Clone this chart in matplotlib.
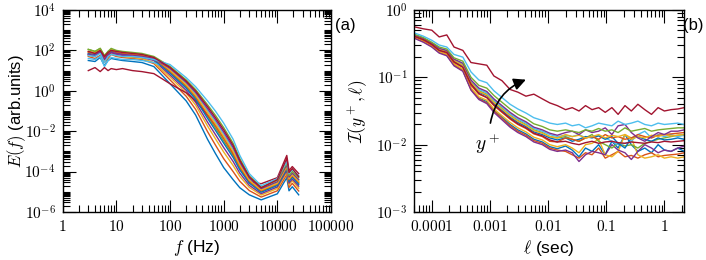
import numpy as np
import matplotlib
matplotlib.use('Agg')
import matplotlib.pyplot as plt
from matplotlib.ticker import LogLocator, NullFormatter

plt.rcParams['font.family'] = ['Liberation Sans', 'DejaVu Sans']
plt.rcParams['mathtext.fontset'] = 'cm'

# colores tipo MATLAB
colores = ['#0072BD', '#D95319', '#EDB120', '#7E2F8E', '#77AC30', '#4DBEEE', '#A2142F']

##############
# PANEL (a)  #
##############
f_hz = [3, 4, 5, 6, 7, 8, 10, 13, 20, 30, 50, 100, 200, 300, 500, 700, 1000,
        1500, 2000, 3000, 5000, 10000, 15000, 16500, 19000, 25000]

# log10 E(f)
E0 = [1.5, 1.45, 1.65, 1.25, 1.5, 1.6, 1.55, 1.5, 1.45, 1.4, 1.2, 0.35, -0.5, -1.2, -2.4, -3.1, -3.8, -4.4, -4.8, -5.15, -5.4, -5.1, -4.3, -4.95, -4.75, -5.15]
E1 = [1.7, 1.6, 1.75, 1.4, 1.6, 1.8, 1.7, 1.65, 1.6, 1.55, 1.35, 0.54, -0.27, -0.92, -2.02, -2.68, -3.36, -4.0, -4.48, -4.94, -5.26, -4.95, -4.14, -4.78, -4.58, -4.96]
E2 = [1.75, 1.7, 1.9, 1.5, 1.7, 1.85, 1.75, 1.7, 1.65, 1.6, 1.4, 0.68, -0.1, -0.71, -1.74, -2.37, -3.03, -3.7, -4.24, -4.78, -5.16, -4.84, -4.02, -4.65, -4.45, -4.82]
E3 = [1.8, 1.7, 1.95, 1.55, 1.75, 1.9, 1.8, 1.75, 1.7, 1.65, 1.5, 0.78, 0.02, -0.57, -1.55, -2.16, -2.81, -3.5, -4.08, -4.68, -5.09, -4.76, -3.94, -4.57, -4.37, -4.72]
E4 = [2.05, 1.95, 2.1, 1.7, 1.95, 2.05, 1.95, 1.9, 1.85, 1.8, 1.65, 0.92, 0.19, -0.36, -1.26, -1.84, -2.48, -3.2, -3.84, -4.52, -4.98, -4.65, -3.82, -4.44, -4.24, -4.58]
E5 = [1.6, 1.55, 1.7, 1.2, 1.5, 1.65, 1.6, 1.55, 1.55, 1.5, 1.4, 1.06, 0.36, -0.15, -0.98, -1.53, -2.15, -2.9, -3.6, -4.36, -4.88, -4.54, -3.7, -4.31, -4.11, -4.44]
E6 = [1.0, 1.15, 0.95, 1.15, 1.0, 1.1, 1.05, 1.1, 1.0, 0.95, 0.85, 0.35, -0.1, -0.5, -1.2, -1.7, -2.3, -3.1, -3.7, -4.5, -4.6, -4.3, -3.2, -3.95, -3.75, -4.1]
E7 = [1.85, 1.8, 2.05, 1.6, 1.85, 1.95, 1.9, 1.8, 1.75, 1.7, 1.55, 0.87, 0.13, -0.43, -1.36, -1.95, -2.59, -3.3, -3.92, -4.57, -5.02, -4.69, -3.86, -4.48, -4.28, -4.63]
E8 = [1.9, 1.85, 2.0, 1.65, 1.85, 2.0, 1.9, 1.85, 1.8, 1.75, 1.6, 0.97, 0.25, -0.29, -1.17, -1.74, -2.37, -3.1, -3.76, -4.47, -4.95, -4.61, -3.78, -4.4, -4.2, -4.53]
E9 = [1.95, 1.9, 2.05, 1.75, 1.9, 2.05, 1.95, 1.9, 1.85, 1.8, 1.65, 1.02, 0.31, -0.22, -1.07, -1.63, -2.26, -3.0, -3.68, -4.42, -4.91, -4.58, -3.74, -4.36, -4.16, -4.49]
E10 = [1.8, 1.75, 1.95, 1.55, 1.8, 1.9, 1.85, 1.8, 1.75, 1.7, 1.6, 1.11, 0.42, -0.08, -0.88, -1.42, -2.04, -2.8, -3.52, -4.31, -4.84, -4.5, -3.66, -4.27, -4.07, -4.39]
E11 = [2.05, 1.95, 2.1, 1.75, 1.95, 2.1, 2.0, 1.95, 1.9, 1.85, 1.7, 1.21, 0.54, 0.06, -0.69, -1.21, -1.82, -2.6, -3.36, -4.21, -4.77, -4.43, -3.58, -4.19, -3.99, -4.3]
E12 = [1.75, 1.7, 1.85, 1.4, 1.7, 1.8, 1.75, 1.7, 1.7, 1.65, 1.55, 1.3, 0.65, 0.2, -0.5, -1.0, -1.6, -2.4, -3.2, -4.1, -4.7, -4.35, -3.5, -4.1, -3.9, -4.2]
E13 = [1.95, 1.85, 2.0, 1.7, 1.9, 2.0, 1.95, 1.9, 1.85, 1.8, 1.65, 1.16, 0.48, -0.01, -0.78, -1.32, -1.93, -2.7, -3.44, -4.26, -4.8, -4.4, -3.35, -4.05, -3.85, -4.25]
espectros = [E0, E1, E2, E3, E4, E5, E6, E7, E8, E9, E10, E11, E12, E13]

##############
# PANEL (b)  #
##############
ell = [5.0e-5, 7.2e-5, 1e-4, 1.34e-4, 1.81e-4, 2.41e-4, 3.42e-4, 4.72e-4,
       6.46e-4, 8.83e-4, 1.17e-3, 1.61e-3, 2.22e-3, 3.02e-3, 4.16e-3,
       5.69e-3, 7.96e-3, 1.07e-2, 1.44e-2,
       0.02, 0.026, 0.034, 0.044, 0.057, 0.074, 0.096, 0.125, 0.16, 0.21,
       0.27, 0.35, 0.46, 0.6, 0.78, 1.0, 1.3, 1.7, 2.2]

# log10 I(y+, l)
I0 = [-0.41, -0.46, -0.54, -0.62, -0.67, -0.81, -0.89, -1.17, -1.31, -1.36, -1.49, -1.59, -1.7, -1.78, -1.84, -1.92, -1.96, -2.03, -2.06,
      -2.02, -2.08, -2.18, -2.05, -2.1, -2.0, -2.15, -1.95, -2.05, -1.85, -2.0, -2.1, -2.05, -2.12, -2.0, -2.08, -2.1, -2.05, -2.1]
I1 = [-0.41, -0.47, -0.54, -0.63, -0.67, -0.82, -0.9, -1.18, -1.32, -1.38, -1.5, -1.61, -1.72, -1.8, -1.86, -1.94, -1.98, -2.05, -2.08,
      -2.1, -2.15, -2.2, -2.12, -2.15, -2.05, -2.2, -2.15, -2.1, -2.18, -2.16, -2.2, -2.15, -2.12, -2.18, -2.16, -2.15, -2.14, -2.12]
I2 = [-0.4, -0.46, -0.53, -0.62, -0.66, -0.8, -0.88, -1.16, -1.29, -1.34, -1.47, -1.57, -1.67, -1.75, -1.81, -1.89, -1.93, -2.0, -2.03,
      -2.0, -2.05, -2.12, -2.0, -1.98, -1.92, -2.15, -2.18, -2.1, -1.85, -1.9, -2.15, -2.2, -2.18, -2.15, -2.2, -2.18, -2.2, -2.18]
I3 = [-0.42, -0.48, -0.55, -0.64, -0.68, -0.83, -0.91, -1.19, -1.33, -1.39, -1.52, -1.63, -1.74, -1.82, -1.88, -1.96, -2.0, -2.07, -2.1,
      -2.08, -2.12, -2.25, -2.15, -2.1, -2.12, -2.15, -2.0, -2.08, -2.12, -2.22, -2.1, -2.0, -2.05, -2.12, -2.08, -2.1, -2.05, -2.02]
I4 = [-0.38, -0.43, -0.5, -0.58, -0.61, -0.75, -0.81, -1.07, -1.2, -1.25, -1.36, -1.46, -1.56, -1.64, -1.7, -1.78, -1.82, -1.88, -1.9,
      -1.88, -1.92, -1.95, -1.9, -1.85, -1.95, -2.0, -2.05, -1.98, -2.02, -2.0, -2.05, -1.98, -1.95, -1.92, -1.9, -1.88, -1.86, -1.85]
I5 = [-0.37, -0.42, -0.49, -0.57, -0.61, -0.74, -0.8, -1.05, -1.18, -1.23, -1.34, -1.44, -1.54, -1.62, -1.68, -1.76, -1.8, -1.85, -1.88,
      -1.86, -1.88, -1.85, -1.9, -1.88, -1.86, -1.9, -1.95, -2.0, -1.98, -1.95, -1.85, -1.8, -1.9, -1.85, -1.88, -1.85, -1.88, -1.86]
I6 = [-0.25, -0.28, -0.3, -0.4, -0.37, -0.55, -0.6, -0.78, -0.8, -0.82, -0.98, -1.05, -1.18, -1.22, -1.28, -1.25, -1.32, -1.38, -1.42,
      -1.48, -1.45, -1.5, -1.42, -1.48, -1.45, -1.52, -1.45, -1.55, -1.42, -1.5, -1.4, -1.48, -1.55, -1.45, -1.5, -1.48, -1.47, -1.45]
I7 = [-0.38, -0.44, -0.5, -0.59, -0.62, -0.76, -0.83, -1.09, -1.22, -1.27, -1.39, -1.49, -1.59, -1.67, -1.73, -1.81, -1.85, -1.9, -1.93,
      -1.9, -1.95, -1.92, -1.88, -1.9, -1.87, -1.92, -1.88, -1.98, -2.05, -1.9, -1.88, -1.92, -1.95, -1.9, -1.93, -1.92, -1.9, -1.92]
I8 = [-0.39, -0.45, -0.52, -0.6, -0.64, -0.78, -0.85, -1.12, -1.25, -1.3, -1.42, -1.52, -1.62, -1.7, -1.76, -1.84, -1.88, -1.95, -1.96,
      -1.9, -1.92, -1.95, -1.9, -1.88, -1.92, -1.85, -1.9, -1.88, -1.92, -1.9, -1.85, -1.88, -1.9, -1.86, -1.85, -1.84, -1.83, -1.82]
I9 = [-0.38, -0.43, -0.5, -0.58, -0.62, -0.75, -0.82, -1.08, -1.21, -1.26, -1.37, -1.47, -1.57, -1.65, -1.71, -1.79, -1.83, -1.88, -1.9,
      -1.85, -1.88, -1.86, -1.9, -1.88, -1.85, -1.9, -1.86, -1.88, -1.85, -1.92, -1.88, -1.9, -1.86, -1.88, -1.85, -1.87, -1.86, -1.85]
I10 = [-0.37, -0.42, -0.49, -0.57, -0.6, -0.73, -0.79, -1.04, -1.16, -1.21, -1.32, -1.42, -1.52, -1.6, -1.66, -1.74, -1.78, -1.83, -1.86,
       -1.82, -1.8, -1.85, -1.78, -1.82, -1.8, -1.75, -1.85, -1.72, -1.7, -1.82, -1.9, -1.95, -1.88, -1.82, -1.85, -1.8, -1.8, -1.78]
I11 = [-0.36, -0.41, -0.48, -0.55, -0.58, -0.71, -0.76, -1.0, -1.12, -1.16, -1.27, -1.37, -1.47, -1.55, -1.61, -1.69, -1.73, -1.78, -1.8,
       -1.78, -1.8, -1.82, -1.78, -1.8, -1.76, -1.8, -1.78, -1.82, -1.75, -1.8, -1.78, -1.76, -1.8, -1.78, -1.77, -1.76, -1.75, -1.75]
I12 = [-0.34, -0.39, -0.45, -0.52, -0.55, -0.66, -0.7, -0.92, -1.04, -1.08, -1.2, -1.3, -1.4, -1.47, -1.53, -1.6, -1.64, -1.68, -1.7,
       -1.68, -1.72, -1.7, -1.75, -1.72, -1.68, -1.7, -1.72, -1.65, -1.7, -1.68, -1.65, -1.7, -1.72, -1.68, -1.7, -1.69, -1.68, -1.7]
I13 = [-0.39, -0.44, -0.51, -0.6, -0.63, -0.77, -0.85, -1.1, -1.24, -1.3, -1.41, -1.51, -1.61, -1.69, -1.75, -1.83, -1.87, -1.93, -1.96,
       -1.95, -1.98, -2.0, -1.97, -1.95, -1.98, -1.96, -1.95, -1.97, -1.98, -1.96, -1.97, -1.98, -1.96, -1.97, -1.95, -1.96, -1.95, -1.94]
intermitencia = [I0, I1, I2, I3, I4, I5, I6, I7, I8, I9, I10, I11, I12, I13]

# etiquetas de los ejes
xt_a = [1, 10, 100, 1000, 10000, 100000]
yt_a = [-6, -4, -2, 0, 2, 4]
xt_b = [1e-4, 1e-3, 1e-2, 1e-1, 1]
xl_b = ['0.0001', '0.001', '0.01', '0.1', '1']
yt_b = [-3, -2, -1, 0]


def estilo(ax):
    ax.set_xscale('log')
    ax.set_yscale('log')
    ax.tick_params(which='both', direction='in', top=True, right=True,
                   labelsize=11, width=0.8, pad=5)
    ax.tick_params(which='major', length=9)
    ax.tick_params(which='minor', length=5)
    for loc in (ax.xaxis, ax.yaxis):
        loc.set_minor_locator(LogLocator(base=10, subs=np.arange(1, 10), numticks=200))
        loc.set_minor_formatter(NullFormatter())
    for s in ax.spines.values():
        s.set_linewidth(1.0)


fig = plt.figure(figsize=(7.06, 2.6), dpi=100)
ax1 = fig.add_axes([62.7/706, 1-212/260, 268.3/706, 202/260])
ax2 = fig.add_axes([414.3/706, 1-212/260, 270/706, 202/260])

for i, E in enumerate(espectros):
    ax1.plot(f_hz, 10**np.array(E), color=colores[i % 7], lw=1.0)
estilo(ax1)
ax1.set_xlim(1, 100000)
ax1.set_ylim(1e-6, 1e4)
ax1.set_xticks(xt_a, [r'$%d$' % v for v in xt_a])
ax1.set_yticks([10.0**e for e in yt_a], [r'$10^{%d}$' % e for e in yt_a])
ax1.set_xlabel(r'$f$ (Hz)', fontsize=12.5, labelpad=3)
ax1.set_ylabel(r'$E(f)$ (arb.units)', fontsize=12)
ax1.yaxis.set_label_coords(-0.13, 0.5)

for i, I in enumerate(intermitencia):
    ax2.plot(ell, 10**np.array(I), color=colores[i % 7], lw=1.0)
estilo(ax2)
ax2.set_xlim(5.0e-5, 2.2)
ax2.set_ylim(1e-3, 1)
ax2.set_xticks(xt_b, [r'$%s$' % s for s in xl_b])
ax2.set_yticks([10.0**e for e in yt_b], [r'$10^{%d}$' % e for e in yt_b])
ax2.set_xlabel(r'$\ell$ (sec)', fontsize=12.5, labelpad=3)
ax2.set_ylabel(r'$\mathcal{I}(y^+,\ell)$', fontsize=12.5)
ax2.yaxis.set_label_coords(-0.165, 0.5)

# flecha de y+
ax2.annotate('', xy=(4.6e-3, 10**-1.02), xytext=(1.0e-3, 10**-1.72),
             arrowprops=dict(arrowstyle='-|>', color='k', lw=1.2,
                             connectionstyle='arc3,rad=-0.3', mutation_scale=18))
ax2.text(9.0e-4, 10**-1.98, r'$y^+$', fontsize=14, ha='center', va='center')

fig.text(335/706, 1-25.5/260, '(a)', fontsize=12, va='center')
fig.text(683/706, 1-25.5/260, '(b)', fontsize=12, va='center')

fig.savefig('out.png', dpi=100)
